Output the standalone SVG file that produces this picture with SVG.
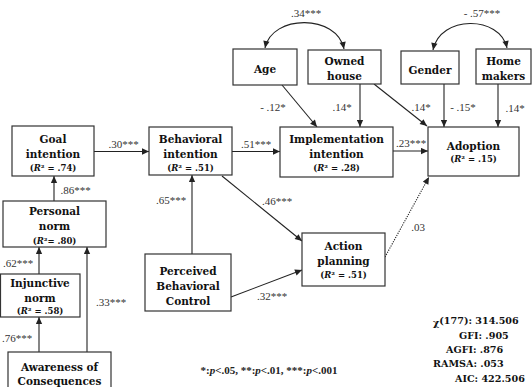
<svg xmlns="http://www.w3.org/2000/svg" width="532" height="387" viewBox="0 0 532 387">
<style>
.box{fill:#fff;stroke:#333;stroke-width:1.2}
.t{font-family:"DejaVu Serif","Liberation Serif",serif;font-weight:bold;font-size:10.5px;fill:#111;text-anchor:middle}
.r{font-family:"DejaVu Serif","Liberation Serif",serif;font-weight:bold;font-size:8.5px;fill:#111;text-anchor:middle}
.lab{font-family:"Liberation Serif",serif;font-size:11px;fill:#333;text-anchor:middle}
.c{fill:none;stroke:#222;stroke-width:1.1}
.dot{stroke-dasharray:1.2 1.2}
.st{font-family:"DejaVu Serif","Liberation Serif",serif;font-weight:bold;font-size:9.6px;fill:#111}
.fn{font-family:"Liberation Serif",serif;font-size:11px;font-weight:bold;fill:#222;text-anchor:middle}
</style>
<defs>
<marker id="ah" viewBox="0 0 10 10" refX="10" refY="5" markerWidth="8" markerHeight="7" markerUnits="userSpaceOnUse" orient="auto-start-reverse"><path d="M0,0.5 L10,5 L0,9.5 z" fill="#222"/></marker>
</defs>
<rect width="532" height="387" fill="#fff"/>
<g id="connectors">
<path class="c" d="M94,151.5 H149" marker-end="url(#ah)"/>
<path class="c" d="M232,151.5 H280" marker-end="url(#ah)"/>
<path class="c" d="M393,151 H428" marker-end="url(#ah)"/>
<path class="c" d="M282,85 L317,127" marker-end="url(#ah)"/>
<path class="c" d="M360,84 V127" marker-end="url(#ah)"/>
<path class="c" d="M374,84 L427,126" marker-end="url(#ah)"/>
<path class="c" d="M444,84 V127" marker-end="url(#ah)"/>
<path class="c" d="M498,84 V127" marker-end="url(#ah)"/>
<path class="c" d="M54,201 V176" marker-end="url(#ah)"/>
<path class="c" d="M39,274 V247" marker-end="url(#ah)"/>
<path class="c" d="M39,352 V317" marker-end="url(#ah)"/>
<path class="c" d="M87,352 V247" marker-end="url(#ah)"/>
<path class="c" d="M192,254 V175" marker-end="url(#ah)"/>
<path class="c" d="M222,176 L302,241" marker-end="url(#ah)"/>
<path class="c" d="M231,297 L302,270" marker-end="url(#ah)"/>
<path class="c dot" d="M385,257 L429,177" marker-end="url(#ah)"/>
<path class="c" d="M265,48 C272,14 337,14 344,49" marker-start="url(#ah)" marker-end="url(#ah)"/>
<path class="c" d="M433,50 C440,15 500,15 507,48" marker-start="url(#ah)" marker-end="url(#ah)"/>
<text class="lab" x="306" y="17">.34***</text>
<text class="lab" x="482" y="17">- .57***</text>
<text class="lab" x="273" y="111">- .12*</text>
<text class="lab" x="342" y="111">.14*</text>
<text class="lab" x="421" y="111">.14*</text>
<text class="lab" x="463" y="111">- .15*</text>
<text class="lab" x="515" y="112">.14*</text>
<text class="lab" x="123.5" y="148">.30***</text>
<text class="lab" x="256" y="148">.51***</text>
<text class="lab" x="411" y="147">.23***</text>
<text class="lab" x="75.5" y="194">.86***</text>
<text class="lab" x="171" y="204">.65***</text>
<text class="lab" x="277" y="205">.46***</text>
<text class="lab" x="18" y="267">.62***</text>
<text class="lab" x="111" y="306">.33***</text>
<text class="lab" x="17" y="342">.76***</text>
<text class="lab" x="272" y="300">.32***</text>
<text class="lab" x="418" y="231">.03</text>
</g>
<g id="age"><rect class="box" x="233" y="49" width="64" height="36"/><text class="t" x="265" y="72.5">Age</text></g>
<g id="owned-house"><rect class="box" x="308" y="50" width="73" height="34"/><text class="t" x="344.5" y="65">Owned</text><text class="t" x="344.5" y="80">house</text></g>
<g id="gender"><rect class="box" x="401" y="51" width="58" height="33"/><text class="t" x="430" y="73.5">Gender</text></g>
<g id="home-makers"><rect class="box" x="476" y="49" width="55" height="35"/><text class="t" x="503.5" y="65">Home</text><text class="t" x="503.5" y="80">makers</text></g>
<g id="goal-intention"><rect class="box" x="12" y="126" width="82" height="50"/><text class="t" x="53" y="142.5">Goal</text><text class="t" x="53" y="158">intention</text><text class="r" x="53" y="171">(<tspan font-style="italic">R</tspan>² = .74)</text></g>
<g id="behavioral-intention"><rect class="box" x="149" y="127" width="83" height="48"/><text class="t" x="190.5" y="142.5">Behavioral</text><text class="t" x="190.5" y="158">intention</text><text class="r" x="190.5" y="171">(<tspan font-style="italic">R</tspan>² = .51)</text></g>
<g id="implementation-intention"><rect class="box" x="280" y="127" width="113" height="50"/><text class="t" x="336.5" y="142.5">Implementation</text><text class="t" x="336.5" y="158">intention</text><text class="r" x="336.5" y="170.5">(<tspan font-style="italic">R</tspan>² = .28)</text></g>
<g id="adoption"><rect class="box" x="428" y="127" width="91" height="49"/><text class="t" x="473.5" y="150">Adoption</text><text class="r" x="473.5" y="162">(<tspan font-style="italic">R</tspan>² = .15)</text></g>
<g id="personal-norm"><rect class="box" x="3" y="201" width="103" height="46"/><text class="t" x="54.5" y="215">Personal</text><text class="t" x="54.5" y="230">norm</text><text class="r" x="54.5" y="243.5">(<tspan font-style="italic">R</tspan>²= .80)</text></g>
<g id="injunctive-norm"><rect class="box" x="0.5" y="274" width="79.5" height="43"/><text class="t" x="40" y="287">Injunctive</text><text class="t" x="40" y="301.5">norm</text><text class="r" x="40" y="313.5">(<tspan font-style="italic">R</tspan>² = .58)</text></g>
<g id="awareness-of-consequences"><rect class="box" x="8" y="352" width="103" height="45"/><text class="t" x="59.5" y="371">Awareness of</text><text class="t" x="59.5" y="385">Consequences</text></g>
<g id="perceived-behavioral-control"><rect class="box" x="145" y="254" width="86" height="57"/><text class="t" x="188" y="275">Perceived</text><text class="t" x="188" y="290">Behavioral</text><text class="t" x="188" y="305">Control</text></g>
<g id="action-planning"><rect class="box" x="302" y="233" width="83" height="53"/><text class="t" x="343.5" y="250">Action</text><text class="t" x="343.5" y="264.5">planning</text><text class="r" x="343.5" y="277.5">(<tspan font-style="italic">R</tspan>² = .51)</text></g>
<g id="notes">
<text class="fn" x="269" y="374">*:<tspan font-style="italic">p</tspan>&lt;.05, **:<tspan font-style="italic">p</tspan>&lt;.01, ***:<tspan font-style="italic">p</tspan>&lt;.001</text>
<text class="st" x="433" y="324"><tspan dy="2">χ</tspan><tspan dy="-2">(177): 314.506</tspan></text>
<text class="st" x="459" y="339">GFI: .905</text>
<text class="st" x="446" y="353">AGFI: .876</text>
<text class="st" x="433" y="367">RAMSA: .053</text>
<text class="st" x="455" y="382">AIC: 422.506</text>
</g>
</svg>
